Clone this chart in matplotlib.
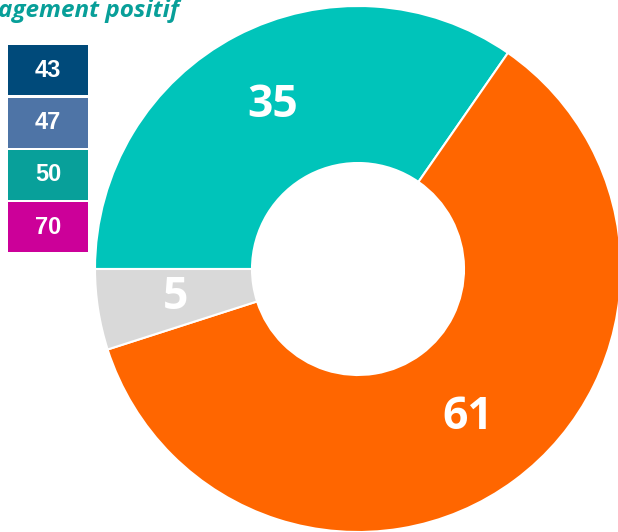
import matplotlib
matplotlib.use("Agg")
from matplotlib import pyplot as plt
from matplotlib.patches import Rectangle
import numpy as np

# donut values (clockwise from 9 o'clock)
values = [35, 61, 5]
labels = ['35', '61', '5']
colors = ['#00C4BA', '#FF6600', '#D9D9D9']

# little coloured boxes on the left
box_values = ['43', '47', '50', '70']
box_colors = ['#004A7A', '#4E74A6', '#08A09A', '#CC0099']

title = 'agement positif'

W, H = 618, 532
fig = plt.figure(figsize=(W / 100, H / 100), dpi=100)
ax = fig.add_axes([0, 0, 1, 1])

cx, cy = 358, H - 269
R, r = 263, 106
wedges, _ = ax.pie(values, colors=colors, startangle=180, counterclock=False,
                   center=(cx, cy), radius=R, frame=True,
                   wedgeprops=dict(width=R - r, edgecolor='white', linewidth=1.5))
ax.set_xlim(0, W)
ax.set_ylim(0, H)
ax.set_aspect('equal')
ax.axis('off')

rl = (R + r) / 2
for w, lab in zip(wedges, labels):
    ang = np.deg2rad((w.theta1 + w.theta2) / 2)
    ax.text(cx + rl * np.cos(ang), cy + rl * np.sin(ang), lab, color='white',
            fontsize=32, fontweight='bold', family='Open Sans',
            ha='center', va='center')

# boxes
top = H - 45
for i, (v, c) in enumerate(zip(box_values, box_colors)):
    y0 = top - 52.3 * (i + 1) + 2
    ax.add_patch(Rectangle((8, y0), 80, 50, facecolor=c, edgecolor='none'))
    ax.text(48, y0 + 25, v, color='white', fontsize=17, fontweight='bold',
            family='Liberation Sans', ha='center', va='center')

ax.text(-2, H - 17, title, color='#089F99', fontsize=17.5, fontweight='bold',
        style='italic', family='Open Sans', ha='left', va='baseline')

fig.savefig('out.png', dpi=100)
